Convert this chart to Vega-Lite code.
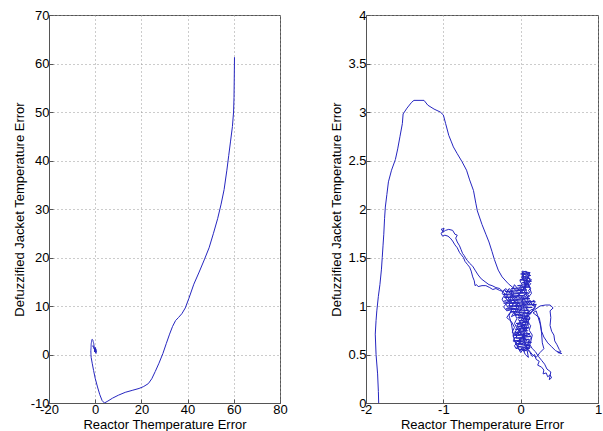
{
  "$schema": "https://vega.github.io/schema/vega-lite/v6.json",
  "background": "white",
  "padding": {"left": 12, "top": 8, "right": 2, "bottom": 0},
  "datasets": {
    "traj": [
      {"t":1,"x":60.3,"y":61.3},{"t":2,"x":60.2,"y":57},{"t":3,"x":60.1,"y":53},{"t":4,"x":59.9,"y":50},{"t":5,"x":59.4,"y":47},
      {"t":6,"x":58.6,"y":44},{"t":7,"x":57.8,"y":41},{"t":8,"x":57.0,"y":38},{"t":9,"x":55.8,"y":34},{"t":10,"x":54.5,"y":31},
      {"t":11,"x":53.0,"y":28},{"t":12,"x":51.2,"y":25},{"t":13,"x":49.3,"y":22},{"t":14,"x":47.2,"y":19.5},{"t":15,"x":45.0,"y":17},
      {"t":16,"x":42.7,"y":14.5},{"t":17,"x":40.5,"y":11.5},{"t":18,"x":39.0,"y":9.6},{"t":19,"x":37.5,"y":8.4},{"t":20,"x":36.0,"y":7.6},
      {"t":21,"x":34.8,"y":7.0},{"t":22,"x":33.5,"y":5.8},{"t":23,"x":32.2,"y":4.2},{"t":24,"x":30.8,"y":2.3},{"t":25,"x":29.3,"y":0.2},
      {"t":26,"x":27.6,"y":-1.8},{"t":27,"x":26.0,"y":-3.5},{"t":28,"x":24.5,"y":-5.0},{"t":29,"x":23.0,"y":-6.0},{"t":30,"x":21.0,"y":-6.6},
      {"t":31,"x":19.0,"y":-7.0},{"t":32,"x":16.0,"y":-7.4},{"t":33,"x":13.0,"y":-7.8},{"t":34,"x":10.0,"y":-8.4},{"t":35,"x":7.5,"y":-9.0},
      {"t":36,"x":5.5,"y":-9.6},{"t":37,"x":4.0,"y":-10.0},{"t":38,"x":3.0,"y":-9.5},{"t":39,"x":2.0,"y":-8.3},{"t":40,"x":1.0,"y":-6.7},
      {"t":41,"x":0.0,"y":-4.9},{"t":42,"x":-0.7,"y":-3.3},{"t":43,"x":-1.3,"y":-1.8},{"t":44,"x":-1.75,"y":-0.6},
      {"t":45,"x":-1.836,"y":0.0},{"t":46,"x":-1.84,"y":0.12},{"t":47,"x":-1.85,"y":0.30},{"t":48,"x":-1.87,"y":0.50},{"t":49,"x":-1.88,"y":0.71},
      {"t":50,"x":-1.87,"y":0.85},{"t":51,"x":-1.86,"y":0.95},{"t":52,"x":-1.84,"y":1.10},{"t":53,"x":-1.82,"y":1.22},{"t":54,"x":-1.80,"y":1.38},
      {"t":55,"x":-1.79,"y":1.50},{"t":56,"x":-1.78,"y":1.62},{"t":57,"x":-1.77,"y":1.74},{"t":58,"x":-1.76,"y":1.90},{"t":59,"x":-1.75,"y":2.02},
      {"t":60,"x":-1.73,"y":2.15},{"t":61,"x":-1.71,"y":2.28},{"t":62,"x":-1.67,"y":2.40},{"t":63,"x":-1.62,"y":2.51},{"t":64,"x":-1.59,"y":2.62},
      {"t":65,"x":-1.56,"y":2.75},{"t":66,"x":-1.53,"y":2.88},{"t":67,"x":-1.52,"y":2.98},{"t":68,"x":-1.47,"y":3.04},{"t":69,"x":-1.41,"y":3.10},
      {"t":70,"x":-1.38,"y":3.12},{"t":71,"x":-1.25,"y":3.12},{"t":72,"x":-1.20,"y":3.07},{"t":73,"x":-1.12,"y":3.03},{"t":74,"x":-1.04,"y":3.00},
      {"t":75,"x":-1.00,"y":2.97},{"t":76,"x":-0.97,"y":2.88},{"t":77,"x":-0.93,"y":2.76},{"t":78,"x":-0.90,"y":2.70},{"t":79,"x":-0.87,"y":2.64},
      {"t":80,"x":-0.82,"y":2.57},{"t":81,"x":-0.76,"y":2.49},{"t":82,"x":-0.70,"y":2.40},{"t":83,"x":-0.66,"y":2.30},{"t":84,"x":-0.61,"y":2.19},
      {"t":85,"x":-0.58,"y":2.06},{"t":86,"x":-0.56,"y":1.98},{"t":87,"x":-0.50,"y":1.84},{"t":88,"x":-0.45,"y":1.74},{"t":89,"x":-0.41,"y":1.66},
      {"t":90,"x":-0.37,"y":1.56},{"t":91,"x":-0.34,"y":1.48},{"t":92,"x":-0.29,"y":1.37},{"t":93,"x":-0.24,"y":1.30},{"t":94,"x":-0.16,"y":1.23},
      {"t":95,"x":-0.10,"y":1.19},{"t":96,"x":-0.05,"y":1.15},
      {"t":97,"x":-0.02,"y":1.18},{"t":98,"x":0.02,"y":1.22},{"t":99,"x":-0.01,"y":1.26},{"t":100,"x":0.04,"y":1.30},{"t":101,"x":0.02,"y":1.34},
      {"t":102,"x":0.07,"y":1.36},{"t":103,"x":0.09,"y":1.32},{"t":104,"x":0.12,"y":1.35},{"t":105,"x":0.10,"y":1.29},{"t":106,"x":0.14,"y":1.27},
      {"t":107,"x":0.08,"y":1.24},{"t":108,"x":0.11,"y":1.20},{"t":109,"x":0.06,"y":1.22},{"t":110,"x":0.03,"y":1.17},{"t":111,"x":0.07,"y":1.13},
      {"t":112,"x":0.02,"y":1.10},{"t":113,"x":-0.03,"y":1.12},{"t":114,"x":-0.06,"y":1.08},{"t":115,"x":-0.10,"y":1.12},{"t":116,"x":-0.14,"y":1.09},
      {"t":117,"x":-0.12,"y":1.04},{"t":118,"x":-0.17,"y":1.05},{"t":119,"x":-0.20,"y":1.10},{"t":120,"x":-0.24,"y":1.13},{"t":121,"x":-0.21,"y":1.17},
      {"t":122,"x":-0.18,"y":1.14},{"t":123,"x":-0.15,"y":1.18},{"t":124,"x":-0.11,"y":1.15},{"t":125,"x":-0.13,"y":1.10},{"t":126,"x":-0.08,"y":1.05},
      {"t":127,"x":-0.11,"y":1.00},{"t":128,"x":-0.16,"y":0.98},{"t":129,"x":-0.19,"y":1.02},{"t":130,"x":-0.22,"y":0.99},{"t":131,"x":-0.18,"y":0.95},
      {"t":132,"x":-0.13,"y":0.96},{"t":133,"x":-0.09,"y":0.93},{"t":134,"x":-0.12,"y":0.89},{"t":135,"x":-0.07,"y":0.91},{"t":136,"x":-0.04,"y":0.96},
      {"t":137,"x":-0.07,"y":1.01},{"t":138,"x":-0.02,"y":1.03},{"t":139,"x":0.01,"y":0.98},{"t":140,"x":-0.03,"y":0.93},{"t":141,"x":0.02,"y":0.90},
      {"t":142,"x":0.05,"y":0.95},{"t":143,"x":0.03,"y":1.01},{"t":144,"x":0.07,"y":1.05},{"t":145,"x":0.10,"y":1.01},{"t":146,"x":0.13,"y":1.04},
      {"t":147,"x":0.16,"y":1.00},{"t":148,"x":0.20,"y":1.02},{"t":149,"x":0.18,"y":0.97},{"t":150,"x":0.13,"y":0.96},{"t":151,"x":0.09,"y":0.92},
      {"t":152,"x":0.05,"y":0.88},{"t":153,"x":0.08,"y":0.84},{"t":154,"x":0.04,"y":0.80},{"t":155,"x":0.07,"y":0.76},{"t":156,"x":0.02,"y":0.78},
      {"t":157,"x":-0.01,"y":0.84},{"t":158,"x":-0.04,"y":0.80},{"t":159,"x":0.00,"y":0.75},{"t":160,"x":-0.03,"y":0.71},{"t":161,"x":-0.07,"y":0.74},
      {"t":162,"x":-0.05,"y":0.68},{"t":163,"x":-0.09,"y":0.66},{"t":164,"x":-0.06,"y":0.62},{"t":165,"x":-0.02,"y":0.65},{"t":166,"x":0.01,"y":0.60},
      {"t":167,"x":0.04,"y":0.63},{"t":168,"x":0.06,"y":0.58},{"t":169,"x":0.09,"y":0.61},{"t":170,"x":0.12,"y":0.57},{"t":171,"x":0.10,"y":0.64},
      {"t":172,"x":0.14,"y":0.67},{"t":173,"x":0.11,"y":0.71},{"t":174,"x":0.07,"y":0.69},{"t":175,"x":0.03,"y":0.72},{"t":176,"x":0.06,"y":0.66},
      {"t":177,"x":0.02,"y":0.68},{"t":178,"x":-0.02,"y":0.62},{"t":179,"x":-0.05,"y":0.57},{"t":180,"x":-0.01,"y":0.55},{"t":181,"x":0.03,"y":0.57},
      {"t":182,"x":0.05,"y":0.53},{"t":183,"x":0.08,"y":0.56},
      {"t":184,"x":0.12,"y":0.52},{"t":185,"x":0.15,"y":0.48},{"t":186,"x":0.18,"y":0.50},{"t":187,"x":0.20,"y":0.45},{"t":188,"x":0.24,"y":0.43},
      {"t":189,"x":0.22,"y":0.39},{"t":190,"x":0.27,"y":0.37},{"t":191,"x":0.30,"y":0.34},{"t":192,"x":0.29,"y":0.30},{"t":193,"x":0.33,"y":0.31},
      {"t":194,"x":0.35,"y":0.27},{"t":195,"x":0.38,"y":0.29},{"t":196,"x":0.40,"y":0.26},{"t":197,"x":0.37,"y":0.24},{"t":198,"x":0.39,"y":0.32},
      {"t":199,"x":0.34,"y":0.35},{"t":200,"x":0.31,"y":0.40},{"t":201,"x":0.27,"y":0.44},{"t":202,"x":0.23,"y":0.48},{"t":203,"x":0.19,"y":0.53},
      {"t":204,"x":0.15,"y":0.56},{"t":205,"x":0.12,"y":0.60},
      {"t":206,"x":0.15,"y":0.70},{"t":207,"x":0.11,"y":0.75},{"t":208,"x":0.13,"y":0.80},{"t":209,"x":0.09,"y":0.83},{"t":210,"x":0.12,"y":0.88},
      {"t":211,"x":0.08,"y":0.90},{"t":212,"x":0.04,"y":0.86},{"t":213,"x":0.00,"y":0.89},{"t":214,"x":-0.03,"y":0.86},{"t":215,"x":0.01,"y":0.82},
      {"t":216,"x":0.06,"y":0.85},{"t":217,"x":0.12,"y":0.93},{"t":218,"x":0.18,"y":0.96},{"t":219,"x":0.25,"y":1.00},{"t":220,"x":0.32,"y":1.01},
      {"t":221,"x":0.38,"y":1.01},{"t":222,"x":0.42,"y":0.98},{"t":223,"x":0.38,"y":0.95},{"t":224,"x":0.39,"y":0.88},{"t":225,"x":0.38,"y":0.80},
      {"t":226,"x":0.40,"y":0.74},{"t":227,"x":0.43,"y":0.70},{"t":228,"x":0.44,"y":0.64},{"t":229,"x":0.47,"y":0.60},{"t":230,"x":0.50,"y":0.55},
      {"t":231,"x":0.52,"y":0.53},{"t":232,"x":0.48,"y":0.52},{"t":233,"x":0.53,"y":0.51},{"t":234,"x":0.45,"y":0.54},{"t":235,"x":0.40,"y":0.58},
      {"t":236,"x":0.35,"y":0.62},{"t":237,"x":0.30,"y":0.68},{"t":238,"x":0.27,"y":0.74},{"t":239,"x":0.25,"y":0.82},{"t":240,"x":0.22,"y":0.90},
      {"t":241,"x":0.20,"y":0.95},{"t":242,"x":0.16,"y":0.93},{"t":243,"x":0.24,"y":0.88},{"t":244,"x":0.26,"y":0.80},{"t":245,"x":0.27,"y":0.72},
      {"t":246,"x":0.28,"y":0.62},{"t":247,"x":0.30,"y":0.56},{"t":248,"x":0.25,"y":0.52},{"t":249,"x":0.20,"y":0.47},{"t":250,"x":0.15,"y":0.50},
      {"t":251,"x":0.10,"y":0.55},{"t":252,"x":0.06,"y":0.62},{"t":253,"x":0.02,"y":0.70},{"t":254,"x":-0.04,"y":0.76},{"t":255,"x":-0.08,"y":0.82},
      {"t":256,"x":-0.05,"y":0.87},{"t":257,"x":-0.09,"y":0.95},{"t":258,"x":-0.14,"y":0.93},{"t":259,"x":-0.18,"y":0.88},{"t":260,"x":-0.12,"y":0.84},
      {"t":261,"x":-0.08,"y":0.78},{"t":262,"x":-0.11,"y":0.73},{"t":263,"x":-0.06,"y":0.70},{"t":264,"x":-0.02,"y":0.74},{"t":265,"x":0.02,"y":0.80},
      {"t":266,"x":0.06,"y":0.74},{"t":267,"x":0.10,"y":0.79},{"t":268,"x":0.07,"y":0.86},{"t":269,"x":0.11,"y":0.95},{"t":270,"x":0.06,"y":0.99},
      {"t":271,"x":0.02,"y":1.06},{"t":272,"x":0.06,"y":1.12},{"t":273,"x":0.10,"y":1.09},{"t":274,"x":0.14,"y":1.13},{"t":275,"x":0.12,"y":1.18},
      {"t":276,"x":0.08,"y":1.28},{"t":277,"x":0.05,"y":1.25},{"t":278,"x":0.01,"y":1.30},{"t":279,"x":0.05,"y":1.33},{"t":280,"x":0.09,"y":1.30},
      {"t":281,"x":0.06,"y":1.20},{"t":282,"x":0.01,"y":1.14},{"t":283,"x":-0.04,"y":1.18},{"t":284,"x":-0.08,"y":1.22},{"t":285,"x":-0.10,"y":1.18},
      {"t":286,"x":-0.15,"y":1.14},{"t":287,"x":-0.19,"y":1.18},{"t":288,"x":-0.23,"y":1.15},{"t":289,"x":-0.27,"y":1.16},
      {"t":290,"x":-0.32,"y":1.18},{"t":291,"x":-0.36,"y":1.17},{"t":292,"x":-0.40,"y":1.19},{"t":293,"x":-0.45,"y":1.21},{"t":294,"x":-0.50,"y":1.21},
      {"t":295,"x":-0.55,"y":1.20},{"t":296,"x":-0.57,"y":1.22},{"t":297,"x":-0.59,"y":1.21},{"t":298,"x":-0.60,"y":1.26},{"t":299,"x":-0.62,"y":1.30},
      {"t":300,"x":-0.64,"y":1.36},{"t":301,"x":-0.66,"y":1.40},{"t":302,"x":-0.69,"y":1.43},{"t":303,"x":-0.72,"y":1.46},{"t":304,"x":-0.74,"y":1.50},
      {"t":305,"x":-0.77,"y":1.53},{"t":306,"x":-0.79,"y":1.55},{"t":307,"x":-0.82,"y":1.60},{"t":308,"x":-0.85,"y":1.63},{"t":309,"x":-0.88,"y":1.67},
      {"t":310,"x":-0.91,"y":1.70},{"t":311,"x":-0.94,"y":1.72},{"t":312,"x":-0.98,"y":1.73},{"t":313,"x":-1.01,"y":1.72},{"t":314,"x":-1.03,"y":1.75},
      {"t":315,"x":-1.00,"y":1.77},{"t":316,"x":-1.03,"y":1.79},{"t":317,"x":-0.99,"y":1.80},{"t":318,"x":-1.01,"y":1.76},{"t":319,"x":-0.97,"y":1.78},
      {"t":320,"x":-0.93,"y":1.79},{"t":321,"x":-0.88,"y":1.78},{"t":322,"x":-0.85,"y":1.74},{"t":323,"x":-0.82,"y":1.73},{"t":324,"x":-0.84,"y":1.70},
      {"t":325,"x":-0.82,"y":1.66},{"t":326,"x":-0.79,"y":1.62},{"t":327,"x":-0.77,"y":1.58},{"t":328,"x":-0.75,"y":1.54},{"t":329,"x":-0.73,"y":1.52},
      {"t":330,"x":-0.71,"y":1.49},{"t":331,"x":-0.69,"y":1.47},{"t":332,"x":-0.66,"y":1.44},{"t":333,"x":-0.62,"y":1.41},{"t":334,"x":-0.59,"y":1.37},
      {"t":335,"x":-0.55,"y":1.32},{"t":336,"x":-0.51,"y":1.28},{"t":337,"x":-0.46,"y":1.25},{"t":338,"x":-0.41,"y":1.22},{"t":339,"x":-0.37,"y":1.21},
      {"t":340,"x":-0.32,"y":1.19},{"t":341,"x":-0.27,"y":1.18},{"t":342,"x":-0.22,"y":1.14},{"t":343,"x":-0.18,"y":1.10},{"t":344,"x":-0.14,"y":1.06},
      {"t":345,"x":-0.10,"y":1.02},{"t":346,"x":-0.12,"y":0.96},{"t":347,"x":-0.15,"y":0.90},{"t":348,"x":-0.12,"y":0.82},{"t":349,"x":-0.10,"y":0.72},
      {"t":350,"x":-0.08,"y":0.64},{"t":351,"x":-0.04,"y":0.58},{"t":352,"x":0.00,"y":0.52},{"t":353,"x":0.03,"y":0.55},{"t":354,"x":0.06,"y":0.50},
      {"t":355,"x":0.10,"y":0.47},{"t":356,"x":0.07,"y":0.60},{"t":357,"x":0.03,"y":0.66},{"t":358,"x":0.05,"y":0.72},
      {"t":359,"x":0.03,"y":0.76},{"t":360,"x":0.05,"y":0.79},{"t":361,"x":0.02,"y":0.81},{"t":362,"x":0.04,"y":0.84},{"t":363,"x":0.01,"y":0.86},
      {"t":364,"x":0.03,"y":0.89},{"t":365,"x":0.00,"y":0.91},{"t":366,"x":-0.02,"y":0.89},{"t":367,"x":-0.04,"y":0.92},{"t":368,"x":-0.06,"y":0.90},
      {"t":369,"x":-0.08,"y":0.93},{"t":370,"x":-0.06,"y":0.96},{"t":371,"x":-0.09,"y":0.98},{"t":372,"x":-0.11,"y":0.96},{"t":373,"x":-0.13,"y":0.99},
      {"t":374,"x":-0.15,"y":1.01},{"t":375,"x":-0.13,"y":1.03},{"t":376,"x":-0.16,"y":1.05},{"t":377,"x":-0.18,"y":1.03},{"t":378,"x":-0.20,"y":1.06},
      {"t":379,"x":-0.22,"y":1.04},{"t":380,"x":-0.24,"y":1.07},{"t":381,"x":-0.22,"y":1.10},{"t":382,"x":-0.19,"y":1.08},{"t":383,"x":-0.17,"y":1.11},
      {"t":384,"x":-0.19,"y":1.13},{"t":385,"x":-0.16,"y":1.15},{"t":386,"x":-0.13,"y":1.13},{"t":387,"x":-0.11,"y":1.16},{"t":388,"x":-0.09,"y":1.13},
      {"t":389,"x":-0.11,"y":1.10},{"t":390,"x":-0.08,"y":1.08},{"t":391,"x":-0.10,"y":1.06},{"t":392,"x":-0.07,"y":1.04},{"t":393,"x":-0.05,"y":1.06},
      {"t":394,"x":-0.03,"y":1.04},{"t":395,"x":-0.05,"y":1.01},{"t":396,"x":-0.02,"y":0.99},{"t":397,"x":-0.04,"y":0.97},{"t":398,"x":-0.01,"y":0.95},
      {"t":399,"x":0.02,"y":0.97},{"t":400,"x":0.00,"y":1.00},{"t":401,"x":0.03,"y":1.02},{"t":402,"x":0.01,"y":1.05},{"t":403,"x":0.04,"y":1.07},
      {"t":404,"x":0.02,"y":1.09},{"t":405,"x":-0.01,"y":1.08},{"t":406,"x":-0.03,"y":1.10},{"t":407,"x":-0.01,"y":1.13},{"t":408,"x":0.02,"y":1.15},
      {"t":409,"x":0.00,"y":1.18},{"t":410,"x":0.03,"y":1.20},{"t":411,"x":0.05,"y":1.18},{"t":412,"x":0.07,"y":1.21},{"t":413,"x":0.05,"y":1.24},
      {"t":414,"x":0.08,"y":1.26},{"t":415,"x":0.06,"y":1.29},{"t":416,"x":0.04,"y":1.27},{"t":417,"x":0.02,"y":1.29},{"t":418,"x":0.03,"y":1.32},
      {"t":419,"x":0.06,"y":1.34},{"t":420,"x":0.08,"y":1.33},{"t":421,"x":0.10,"y":1.35},{"t":422,"x":0.11,"y":1.32},{"t":423,"x":0.09,"y":1.30},
      {"t":424,"x":0.12,"y":1.28},{"t":425,"x":0.10,"y":1.25},{"t":426,"x":0.13,"y":1.23},{"t":427,"x":0.11,"y":1.21},{"t":428,"x":0.13,"y":1.18},
      {"t":429,"x":0.10,"y":1.16},{"t":430,"x":0.12,"y":1.14},{"t":431,"x":0.09,"y":1.12},{"t":432,"x":0.11,"y":1.10},{"t":433,"x":0.08,"y":1.08},
      {"t":434,"x":0.06,"y":1.10},{"t":435,"x":0.05,"y":1.06},{"t":436,"x":0.08,"y":1.04},{"t":437,"x":0.06,"y":1.01},{"t":438,"x":0.09,"y":0.99},
      {"t":439,"x":0.07,"y":0.97},{"t":440,"x":0.10,"y":0.95},{"t":441,"x":0.08,"y":0.92},{"t":442,"x":0.06,"y":0.94},{"t":443,"x":0.04,"y":0.92},
      {"t":444,"x":0.06,"y":0.89},{"t":445,"x":0.03,"y":0.87},{"t":446,"x":0.05,"y":0.84},{"t":447,"x":0.07,"y":0.82},{"t":448,"x":0.05,"y":0.79},
      {"t":449,"x":0.08,"y":0.77},{"t":450,"x":0.06,"y":0.74},{"t":451,"x":0.09,"y":0.72},{"t":452,"x":0.07,"y":0.69},{"t":453,"x":0.04,"y":0.70},
      {"t":454,"x":0.02,"y":0.68},{"t":455,"x":0.04,"y":0.65},{"t":456,"x":0.01,"y":0.63},{"t":457,"x":-0.01,"y":0.66},{"t":458,"x":-0.03,"y":0.64},
      {"t":459,"x":-0.01,"y":0.61},{"t":460,"x":-0.04,"y":0.59},{"t":461,"x":-0.06,"y":0.61},{"t":462,"x":-0.08,"y":0.59},{"t":463,"x":-0.06,"y":0.56},
      {"t":464,"x":-0.03,"y":0.57},{"t":465,"x":-0.01,"y":0.54},{"t":466,"x":0.02,"y":0.56},{"t":467,"x":0.04,"y":0.54},{"t":468,"x":0.07,"y":0.57},
      {"t":469,"x":0.09,"y":0.55},{"t":470,"x":0.11,"y":0.58},{"t":471,"x":0.09,"y":0.61},{"t":472,"x":0.12,"y":0.63},{"t":473,"x":0.10,"y":0.66},
      {"t":474,"x":0.07,"y":0.64},{"t":475,"x":0.05,"y":0.67},{"t":476,"x":0.03,"y":0.70},{"t":477,"x":0.00,"y":0.72},{"t":478,"x":-0.02,"y":0.70},
      {"t":479,"x":-0.04,"y":0.73},{"t":480,"x":-0.07,"y":0.71},{"t":481,"x":-0.05,"y":0.68},{"t":482,"x":-0.08,"y":0.67},{"t":483,"x":-0.10,"y":0.69},
      {"t":484,"x":-0.08,"y":0.72},{"t":485,"x":-0.06,"y":0.75},{"t":486,"x":-0.03,"y":0.77},{"t":487,"x":-0.05,"y":0.80},{"t":488,"x":-0.02,"y":0.82},
      {"t":489,"x":0.00,"y":0.80},{"t":490,"x":0.02,"y":0.77},{"t":491,"x":0.05,"y":0.75},{"t":492,"x":0.08,"y":0.80},{"t":493,"x":0.11,"y":0.82},
      {"t":494,"x":0.09,"y":0.85},{"t":495,"x":0.12,"y":0.87},{"t":496,"x":0.10,"y":0.90},{"t":497,"x":0.13,"y":0.92},{"t":498,"x":0.15,"y":0.95},
      {"t":499,"x":0.18,"y":0.99},{"t":500,"x":0.16,"y":1.02},{"t":501,"x":0.19,"y":1.04},{"t":502,"x":0.17,"y":1.06},{"t":503,"x":0.14,"y":1.04},
      {"t":504,"x":0.12,"y":1.06},{"t":505,"x":0.10,"y":1.03},
      {"t":506,"x":0.02,"y":1.36},{"t":507,"x":0.11,"y":1.345},{"t":508,"x":0.00,"y":1.33},{"t":509,"x":0.13,"y":1.315},{"t":510,"x":0.03,"y":1.30},
      {"t":511,"x":0.12,"y":1.285},{"t":512,"x":-0.01,"y":1.27},{"t":513,"x":0.14,"y":1.255},{"t":514,"x":0.02,"y":1.24},{"t":515,"x":0.11,"y":1.225},
      {"t":516,"x":-0.04,"y":1.21},{"t":517,"x":0.12,"y":1.195},{"t":518,"x":-0.12,"y":1.18},{"t":519,"x":0.08,"y":1.165},{"t":520,"x":-0.20,"y":1.15},
      {"t":521,"x":0.10,"y":1.135},{"t":522,"x":-0.23,"y":1.12},{"t":523,"x":0.04,"y":1.105},{"t":524,"x":-0.21,"y":1.09},{"t":525,"x":0.12,"y":1.075},
      {"t":526,"x":-0.18,"y":1.06},{"t":527,"x":0.18,"y":1.045},{"t":528,"x":-0.22,"y":1.03},{"t":529,"x":0.20,"y":1.015},{"t":530,"x":-0.16,"y":1.00},
      {"t":531,"x":0.15,"y":0.985},{"t":532,"x":-0.19,"y":0.97},{"t":533,"x":0.10,"y":0.955},{"t":534,"x":-0.13,"y":0.94},{"t":535,"x":0.13,"y":0.925},
      {"t":536,"x":-0.08,"y":0.91},{"t":537,"x":0.09,"y":0.895},{"t":538,"x":-0.04,"y":0.88},{"t":539,"x":0.12,"y":0.865},{"t":540,"x":-0.02,"y":0.85},
      {"t":541,"x":0.10,"y":0.835},{"t":542,"x":-0.06,"y":0.82},{"t":543,"x":0.08,"y":0.805},{"t":544,"x":-0.03,"y":0.79},{"t":545,"x":0.11,"y":0.775},
      {"t":546,"x":-0.07,"y":0.76},{"t":547,"x":0.09,"y":0.745},{"t":548,"x":-0.05,"y":0.73},{"t":549,"x":0.12,"y":0.715},{"t":550,"x":-0.09,"y":0.70},
      {"t":551,"x":0.13,"y":0.685},{"t":552,"x":-0.06,"y":0.67},{"t":553,"x":0.10,"y":0.655},{"t":554,"x":-0.10,"y":0.64},{"t":555,"x":0.14,"y":0.625},
      {"t":556,"x":-0.07,"y":0.61},{"t":557,"x":0.11,"y":0.595},{"t":558,"x":-0.04,"y":0.58},{"t":559,"x":0.12,"y":0.565},{"t":560,"x":-0.01,"y":0.55},
      {"t":561,"x":0.08,"y":0.54}
    ]
  },
  "config": {
    "font": "Liberation Sans",
    "view": {"stroke": "#555555", "strokeWidth": 1},
    "axis": {
      "labelFontSize": 13, "titleFontSize": 13, "titleFontWeight": "normal",
      "labelColor": "#000000", "titleColor": "#000000",
      "domainColor": "#555555", "tickColor": "#555555", "tickSize": -4,
      "gridColor": "#999999", "gridDash": [1, 3], "gridOpacity": 1,
      "labelPadding": 4, "labelFlush": false, "labelOverlap": false
    },
    "axisX": {"titlePadding": 2},
    "line": {"color": "#2626c0", "strokeWidth": 1}
  },
  "spacing": 86,
  "bounds": "flush",
  "hconcat": [
    {
      "width": 231, "height": 388,
      "data": {"name": "traj"},
      "mark": {"type": "line", "clip": true},
      "encoding": {
        "x": {"field": "x", "type": "quantitative",
              "scale": {"domain": [-20, 80], "nice": false, "zero": false},
              "axis": {"values": [-20, 0, 20, 40, 60, 80], "labelExpr": "'' + datum.value", "title": "Reactor Themperature Error"}},
        "y": {"field": "y", "type": "quantitative",
              "scale": {"domain": [-10, 70], "nice": false, "zero": false},
              "axis": {"values": [-10, 0, 10, 20, 30, 40, 50, 60, 70], "labelExpr": "'' + datum.value", "title": "Defuzzified Jacket Temperature Error"}},
        "order": {"field": "t", "type": "quantitative"}
      }
    },
    {
      "width": 232, "height": 388,
      "data": {"name": "traj"},
      "mark": {"type": "line", "clip": true},
      "encoding": {
        "x": {"field": "x", "type": "quantitative",
              "scale": {"domain": [-2, 1], "nice": false, "zero": false},
              "axis": {"values": [-2, -1, 0, 1], "labelExpr": "'' + datum.value", "title": "Reactor Themperature Error"}},
        "y": {"field": "y", "type": "quantitative",
              "scale": {"domain": [0, 4], "nice": false, "zero": false},
              "axis": {"values": [0, 0.5, 1, 1.5, 2, 2.5, 3, 3.5, 4], "labelExpr": "'' + datum.value", "title": "Defuzzified Jacket Temperature Error"}},
        "order": {"field": "t", "type": "quantitative"}
      }
    }
  ]
}
